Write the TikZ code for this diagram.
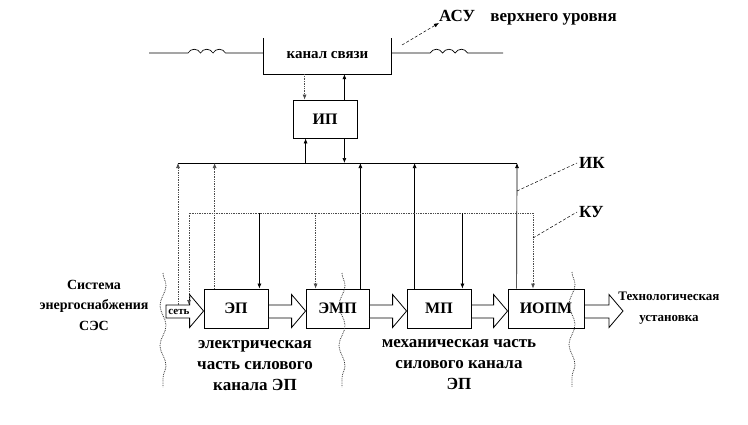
\documentclass[tikz,border=0pt]{standalone}
\usepackage{fontspec}
\setmainfont{Liberation Serif}
\usetikzlibrary{arrows.meta,calc,decorations.pathmorphing}

\newcommand{\fatarrow}[2]{%
  \draw[fat] ($(#1)+(0,-3.5)$) -- ($(#2 |- #1)+(-14,-3.5)$) -- ($(#2 |- #1)+(-14,-14)$)
    -- ($(#2 |- #1)+(0,2.5)$) -- ($(#2 |- #1)+(-14,19)$) -- ($(#2 |- #1)+(-14,9.5)$)
    -- ($(#1)+(0,9.5)$) -- cycle;}

\tikzset{
  blk/.style={draw, line width=0.8pt, minimum width=64, minimum height=39, inner sep=0,
    font=\fontsize{16}{16}\selectfont\bfseries},
  lbl/.style={align=center, inner sep=0, font=\fontsize{17}{21}\selectfont\bfseries},
  sml/.style={align=center, inner sep=0, font=\fontsize{14}{20.5}\selectfont\bfseries},
  sig/.style={line width=0.7pt},
  dsig/.style={line width=0.7pt, densely dotted, black!70},
  tip/.style={-{Latex[length=5pt,width=4pt]}},
  lead/.style={line width=0.5pt, densely dashed},
  fat/.style={draw, fill=white, line width=0.8pt},
  bnd/.style={black!80, densely dotted, line width=0.8pt, decorate,
    decoration={snake, amplitude=3pt, segment length=40pt}}
}

\begin{document}
\begin{tikzpicture}[x=1pt, y=-1pt]
\useasboundingbox (0,0) rectangle (748,424);

% channel on top
\node[minimum width=127, minimum height=36, inner sep=0,
  font=\fontsize{15}{15}\selectfont\bfseries] (kanal) at (327.5,56) {\raisebox{2pt}{канал связи}};
\draw[sig] (kanal.north west) -- (kanal.south west) -- (kanal.south east) -- (kanal.north east);
\coordinate (chL) at (149,53);
\coordinate (chR) at (503,53);
\draw[sig] (chL) -- ++(39,0)
  .. controls +(3,-5) and +(-3,-5) .. ++(12.5,0)
  .. controls +(3,-5) and +(-3,-5) .. ++(12.5,0)
  .. controls +(3,-5) and +(-3,-5) .. ++(12.5,0) -- (chL -| kanal.west);
\draw[sig] (kanal.east |- chR) -- ++(39,0)
  .. controls +(3,-5) and +(-3,-5) .. ++(12.5,0)
  .. controls +(3,-5) and +(-3,-5) .. ++(12.5,0)
  .. controls +(3,-5) and +(-3,-5) .. ++(12.5,0) -- (chR);
\node[lbl, anchor=west] (asu) at (439,18) {АСУ\hspace{0.9em}верхнего уровня};
\coordinate (asuFrom) at (402,45);
\draw[lead, tip] (asuFrom) -- ([yshift=-5]asu.west);

% IP
\node[blk, minimum height=38] (ip) at (325,119) {ИП};
\draw[dsig, tip] ([xshift=12]ip.north west |- kanal.south) -- ([xshift=12]ip.north west);
\draw[sig, tip] ([xshift=-13]ip.north east) -- ([xshift=-13]ip.north east |- kanal.south);

% power channel
\node[blk] (ep) at (236,308.5) {ЭП};
\node[blk, minimum width=63] (emp) at (337.5,308.5) {ЭМП};
\node[blk] (mp) at (439,308.5) {МП};
\node[blk, minimum width=76] (iopm) at (546,308.5) {ИОПМ};
\coordinate (netin) at (166,308.5);
\coordinate (out) at (623,308.5);
\fatarrow{netin}{ep.west}
\fatarrow{ep.east}{emp.west}
\fatarrow{emp.east}{mp.west}
\fatarrow{mp.east}{iopm.west}
\fatarrow{iopm.east}{out}
\node[inner sep=0, font=\fontsize{11}{11}\selectfont\bfseries] (set) at (179,311.5) {сеть};
\coordinate (nettop) at (178,305);

% information channel IK
\coordinate (ikL) at (178,163);
\coordinate (ikR) at (517,163);
\draw[sig] (ikL) -- (ikR);
\draw[sig, tip] ([xshift=13]ip.south west |- ikL) -- ([xshift=13]ip.south west);
\draw[sig, tip] ([xshift=-13]ip.south east) -- ([xshift=-13]ip.south east |- ikL);
\draw[dsig, tip] (nettop) -- (ikL);
\draw[dsig, tip] ([xshift=11]ep.north west) -- ([xshift=11]ep.north west |- ikL);
\draw[sig, tip] ([xshift=-9]emp.north east) -- ([xshift=-9]emp.north east |- ikL);
\draw[sig, tip] ([xshift=8]mp.north west) -- ([xshift=8]mp.north west |- ikL);
\draw[sig, tip] ([xshift=9]iopm.north west) -- (ikR);

% control channel KU
\coordinate (kuL) at (189,213);
\coordinate (kuR) at (533,213);
\draw[dsig, {Latex[length=5pt,width=4pt]}-{Latex[length=5pt,width=4pt]}]
  (kuL |- nettop) -- (kuL) -- (kuR) -- (kuR |- iopm.north);
\draw[sig, tip] ([xshift=-9]ep.north east |- kuL) -- ([xshift=-9]ep.north east);
\draw[dsig, tip] ([xshift=10]emp.north west |- kuL) -- ([xshift=10]emp.north west);
\draw[sig, tip] ([xshift=-9]mp.north east |- kuL) -- ([xshift=-9]mp.north east);

% labels
\node[lbl, anchor=west] (ik) at (579,163) {ИК};
\node[lbl, anchor=west] (ku) at (579,212) {КУ};
\draw[lead] ([yshift=-28]ikR) -- ([xshift=-2]ik.west);
\draw[lead] ([yshift=-25]kuR) -- ([xshift=-2]ku.west);

\node[sml] (ses) at (94,305) {Система\\энергоснабжения\\СЭС};
\node[lbl] (elpart) at (255,366) {электрическая\\часть силового\\канала ЭП};
\node[lbl] (mechpart) at (459,365) {механическая часть\\силового канала\\ЭП};
\node[align=center, inner sep=0, font=\fontsize{13}{21}\selectfont\bfseries] (tech) at (669,308) {Технологическая\\установка};

% boundaries
\draw[bnd] (163,273) -- (163,387);
\draw[bnd] (342,273) -- (342,387);
\draw[bnd] (572,272) -- (572,387);
\end{tikzpicture}
\end{document}
